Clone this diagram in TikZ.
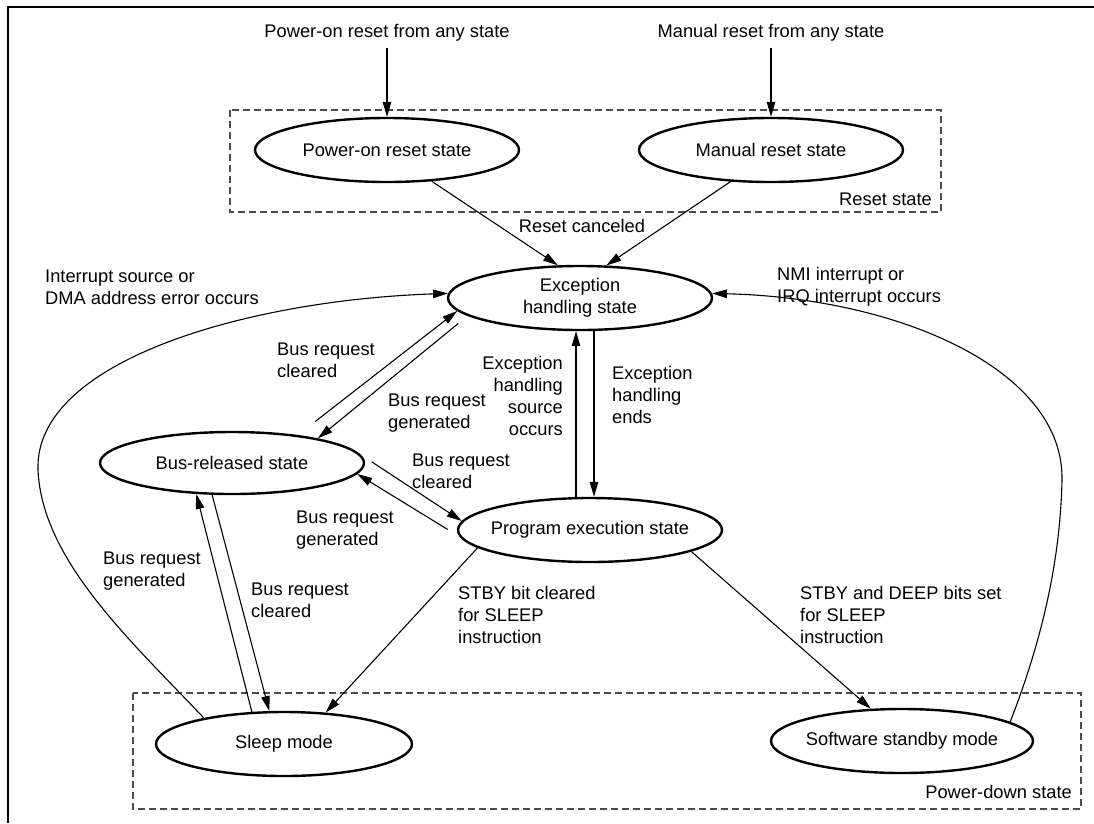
\documentclass[tikz,border=0pt]{standalone}
\usepackage{fontspec}
\setmainfont{Liberation Sans}
\usetikzlibrary{shapes.geometric,arrows.meta,calc}
\begin{document}
\begin{tikzpicture}[x=1pt,y=-1pt,
  every node/.style={font=\fontsize{18.3}{22}\selectfont, text=black},
  state/.style={ellipse, draw, line width=2.4pt, inner xsep=-20pt, inner ysep=0pt,
    minimum width=264pt, minimum height=64pt, align=center},
  lbl/.style={align=left, inner sep=0pt},
  arr/.style={-{Triangle[length=15pt,width=8.5pt]}, line width=1.1pt},
  group/.style={draw=black!70, dash pattern=on 7pt off 4pt, line width=1.1pt},
]
\useasboundingbox (0,0) rectangle (1094,823);

% outer frame (top and left edges only)
\draw[line width=2.4pt] (1094,7) -- (8,7) -- (8,823);

% state groups
\draw[group] (230,110) rectangle (941,212);
\draw[group] (133,693) rectangle (1081,809);

% states
\node[state] (pon) at (387,150) {Power-on reset state};
\node[state] (man) at (771,150) {Manual reset state};
\node[state] (exc) at (580,298) {Exception\\handling state};
\node[state, minimum height=62pt] (bus) at (232,463) {Bus-released state};
\node[state] (prog) at (590,530) {Program execution state};
\node[state, minimum width=256pt] (sleep) at (284,744) {Sleep mode};
\node[state, minimum width=262pt] (stby) at (902,741) {Software standby mode};

% reset sources
\node[lbl] (src1) at (387,33) {Power-on reset from any state};
\node[lbl] (src2) at (771,33) {Manual reset from any state};

% labels
\node[lbl, anchor=east] (rst) at (932,199) {Reset state};
\node[lbl] (rc) at (582,226) {Reset canceled};
\node[lbl, anchor=west] (intl) at (45,287) {Interrupt source or\\DMA address error occurs};
\node[lbl, anchor=west] (nmil) at (777,287) {NMI interrupt or\\IRQ interrupt occurs};
\node[lbl, anchor=west] (bc1) at (277,360.5) {Bus request\\cleared};
\node[lbl, anchor=west] (bg1) at (388,413.5) {Bus request\\generated};
\node[lbl, anchor=east, align=right] (ehs) at (563,395.5) {Exception\\handling\\source\\occurs};
\node[lbl, anchor=west] (ehe) at (612,395) {Exception\\handling\\ends};
\node[lbl, anchor=west] (bc2) at (412,471.5) {Bus request\\cleared};
\node[lbl, anchor=west] (bg2) at (296,530.5) {Bus request\\generated};
\node[lbl, anchor=west] (bg3) at (103,571.5) {Bus request\\generated};
\node[lbl, anchor=west] (bc3) at (251,600.5) {Bus request\\cleared};
\node[lbl, anchor=west] (sbc) at (458,615) {STBY bit cleared\\for SLEEP\\instruction};
\node[lbl, anchor=west] (sds) at (800,615) {STBY and DEEP bits set\\for SLEEP\\instruction};
\node[lbl, anchor=east] (pds) at (1072,792) {Power-down state};

% transitions
\draw[arr, shorten <=6pt] (src1) -- (pon);
\draw[arr, shorten <=6pt] (src2) -- (man);
\draw[arr] (pon.325) -- (exc.124);
\draw[arr] (man.218) -- (exc.51);
\draw[arr] ($(prog.north)+(-14,0)$) -- ($(exc.south)+(-4,0)$);
\draw[arr] ($(exc.south)+(14,0)$) -- ($(prog.north)+(4,0)$);
\draw[arr, shorten <=22pt] (bus.23) -- (exc.186);
\draw[arr, shorten <=12pt] (exc.189) -- (bus.16);
\draw[arr, shorten <=14pt] (bus.4) -- (prog.176);
\draw[arr, shorten <=14pt] (prog.183) -- (bus.355);
\draw[arr] (sleep.135) -- (bus.221);
\draw[arr] (bus.238) -- (sleep.114);
\draw[arr] (prog.189) -- (sleep.37);
\draw[arr] (prog.348) -- (stby.134);
\draw[arr] (sleep.162) .. controls (130,640) and (42,560) .. (38,470)
  .. controls (34,360) and (250,300) .. (exc.178);
\draw[arr] (stby.10) .. controls (1038,650) and (1060,570) .. (1062,480)
  .. controls (1064,370) and (900,298) .. (exc.2);
\end{tikzpicture}
\end{document}
